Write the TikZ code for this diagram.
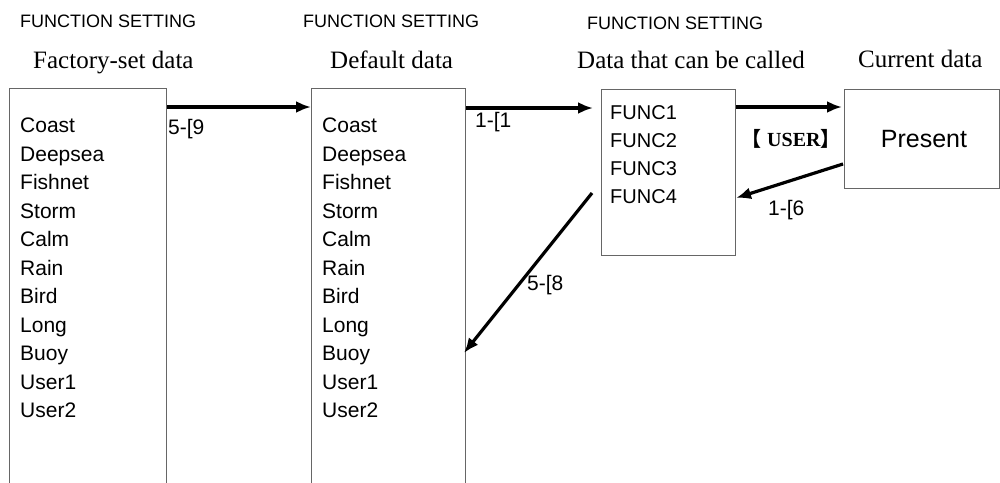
\documentclass[tikz,border=0pt]{standalone}
\usepackage{fontspec}
\setmainfont{Liberation Serif}
\setsansfont{Liberation Sans}
\newfontfamily\cjkfont{Noto Sans CJK JP}
\usetikzlibrary{arrows.meta,positioning,calc}
\definecolor{fsFrame}{HTML}{666666}
\tikzset{
  fsPanel/.style={
    draw=fsFrame,
    line width=1pt,
    anchor=north west,
    inner sep=0pt
  },
  fsArrow/.style={-{Latex[length=15pt,width=12pt]}, line width=3.2pt, draw=black},
  fsHead/.style={anchor=base west, inner sep=0pt, font=\sffamily\fontsize{18}{20}\selectfont},
  fsTitle/.style={anchor=base west, inner sep=0pt, font=\rmfamily\fontsize{25}{27}\selectfont},
  fsList/.style={
    anchor=north west,
    inner sep=0pt,
    align=left,
    font=\sffamily\fontsize{21}{28.5}\selectfont
  },
  fsLabel/.style={anchor=base west, inner sep=0pt, font=\sffamily\fontsize{21}{24}\selectfont}
}

\begin{document}
\begin{tikzpicture}[x=1pt, y=-1pt]
  \useasboundingbox (0,0) rectangle (1000,482);
  \clip (0,0) rectangle (1000,482);

  % headings
  \node[fsHead] (headFactory) at (20,27) {FUNCTION SETTING};
  \node[fsHead] (headDefault) at (303,27) {FUNCTION SETTING};
  \node[fsHead] (headCallable) at (587,29) {FUNCTION SETTING};
  \node[fsTitle] (titleFactory) at (33,68) {Factory-set data};
  \node[fsTitle] (titleDefault) at (330,68) {Default data};
  \node[fsTitle] (titleCallable) at (577,68) {Data that can be called};
  \node[fsTitle] (titleCurrent) at (858,67) {Current data};

  % panels
  \node[fsPanel, minimum width=157, minimum height=420] (factory) at (9,88) {};
  \node[fsPanel, minimum width=154, minimum height=420] (default) at (311,88) {};
  \node[fsPanel, minimum width=134, minimum height=166] (callable) at (601,89) {};
  \node[fsPanel, minimum width=155, minimum height=99] (current) at (844,89) {};

  \node[fsList] (factoryList) at (20,118)
    {Coast\\Deepsea\\Fishnet\\Storm\\Calm\\Rain\\Bird\\Long\\Buoy\\User1\\User2};
  \node[fsList] (defaultList) at (322,118)
    {Coast\\Deepsea\\Fishnet\\Storm\\Calm\\Rain\\Bird\\Long\\Buoy\\User1\\User2};
  \node[fsList, font=\sffamily\fontsize{20}{28}\selectfont] (funcList) at (610,105)
    {FUNC1\\FUNC2\\FUNC3\\FUNC4};
  \node[font=\sffamily\fontsize{25}{28}\selectfont] (present) at ($(current.center)+(2,0)$) {Present};

  % transfers
  \draw[fsArrow] ($(factory.north east)+(0,19)$) -- ($(default.north west)+(0,19)$);
  \draw[fsArrow, shorten >=8pt] ($(default.north east)+(0,20)$) -- ($(callable.north west)+(0,19)$);
  \draw[fsArrow, shorten >=2pt] ($(callable.north east)+(0,18)$) -- ($(current.north west)+(0,18)$);
  \draw[fsArrow] ($(current.north west)+(-1,75)$) -- ($(callable.north east)+(0,109)$);
  \draw[fsArrow] ($(callable.north west)+(-9,104)$) -- ($(default.north east)+(-2,265)$);

  \node[fsLabel] (labelNine) at (168,134) {5-[9};
  \node[fsLabel] (labelOne) at (475,127) {1-[1};
  \node[anchor=base west, inner sep=0pt, font=\rmfamily\bfseries\fontsize{20}{22}\selectfont]
    (labelUser) at (741,146) {{\cjkfont 【}\hspace{6pt}USER{\cjkfont 】}};
  \node[fsLabel] (labelSix) at (768,215) {1-[6};
  \node[fsLabel] (labelEight) at (527,290) {5-[8};
\end{tikzpicture}
\end{document}
